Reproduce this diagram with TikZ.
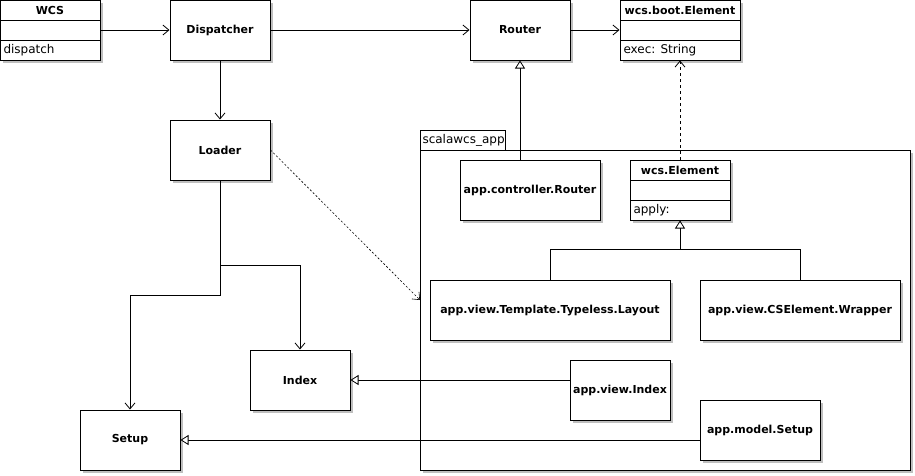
\documentclass[tikz,border=0pt]{standalone}
\usepackage{fontspec}
\setmainfont{DejaVu Sans}
\usetikzlibrary{arrows.meta,shadows,calc}

\begin{document}
\begin{tikzpicture}[x=1pt,y=-1pt,
  line width=1pt,
  shade box/.style={drop shadow={shadow xshift=3pt,shadow yshift=-3pt,fill=black!25,opacity=1}},
  cls/.style={draw=black,fill=white,inner sep=0pt,shade box,
    font=\fontsize{11pt}{13pt}\selectfont\bfseries},
  title/.style={inner sep=0pt,font=\fontsize{11pt}{13pt}\selectfont\bfseries},
  member/.style={inner sep=0pt,anchor=west,font=\fontsize{12pt}{14pt}\selectfont},
  assoc/.style={-{Straight Barb[length=6pt,width=10pt,line width=0.8pt]}},
  gen/.style={-{Triangle[open,length=8pt,width=10pt,fill=white,line width=0.8pt]}},
  real/.style={dash pattern=on 3pt off 3pt,line width=0.8pt,-{Straight Barb[length=6pt,width=10pt,line width=0.8pt]}},
  dep/.style={dash pattern=on 2pt off 2pt,line width=0.6pt,-{Straight Barb[length=6pt,width=10pt,line width=0.6pt]}},
]
\useasboundingbox (0,0) rectangle (915,475);

% package scalawcs_app
\draw[fill=white] (420,130) rectangle (505,150);
\node[draw=black,fill=white,inner sep=0pt,shade box,minimum width=490pt,minimum height=320pt] (pkg) at (665,310) {};
\node[member] (pkgname) at (422,140) {scalawcs\_app};
\coordinate (pkgin) at (420,300);

% top row
\node[cls,minimum width=100pt,minimum height=60pt] (wcs) at (50,30) {};
\draw (0,20) -- (100,20) (0,40) -- (100,40);
\node[title] (wcsname) at (50,10) {WCS};
\node[member] (wcsop) at (3,50) {dispatch};

\node[cls,minimum width=100pt,minimum height=60pt] (disp) at (220,30) {Dispatcher};
\node[cls,minimum width=100pt,minimum height=60pt] (router) at (520,30) {Router};

\node[cls,minimum width=120pt,minimum height=60pt] (boot) at (680,30) {};
\draw (620,20) -- (740,20) (620,40) -- (740,40);
\node[title] (bootname) at (680,10) {wcs.boot.Element};
\node[member] (bootop) at (623,50) {exec: String};

% left column
\node[cls,minimum width=100pt,minimum height=60pt] (loader) at (220,150) {Loader};
\node[cls,minimum width=100pt,minimum height=60pt] (index) at (300,380) {Index};
\node[cls,minimum width=100pt,minimum height=60pt] (setup) at (130,440) {Setup};

% package contents
\node[cls,minimum width=140pt,minimum height=60pt] (ctrl) at (530,190) {app.controller.Router};
\node[cls,minimum width=100pt,minimum height=60pt] (welem) at (680,190) {};
\draw (630,180) -- (730,180) (630,200) -- (730,200);
\node[title] (welemname) at (680,170) {wcs.Element};
\node[member] (welemop) at (633,210) {apply:};

\node[cls,minimum width=240pt,minimum height=60pt] (layout) at (550,310) {app.view.Template.Typeless.Layout};
\node[cls,minimum width=200pt,minimum height=60pt] (wrapper) at (800,310) {app.view.CSElement.Wrapper};
\node[cls,minimum width=100pt,minimum height=60pt] (appindex) at (620,390) {app.view.Index};
\node[cls,minimum width=120pt,minimum height=60pt] (appsetup) at (760,430) {app.model.Setup};

% associations
\draw[assoc] (wcs.east) -- (disp.west);
\draw[assoc] (disp.east) -- (router.west);
\draw[assoc] (router.east) -- (boot.west);
\draw[assoc] (disp.south) -- (loader.north);
\draw[assoc] (loader.south) -- ++(0,115) -| (setup.north);
\draw[assoc] (loader.south) -- ++(0,85) -| (index.north);

% dependency into the package
\draw[dep] (loader.east) -- (pkgin);

% generalizations and realization
\draw[gen] (router.south |- ctrl.north) -- (router.south);
\draw[real] (welem.north) -- (boot.south);
\draw (wrapper.north) -- ++(0,-30) -| (welem.south);
\draw[gen] (layout.north) -- ++(0,-30) -| (welem.south);
\draw[gen] (appindex.west |- index.east) -- (index.east);
\draw[gen] (appsetup.west |- setup.east) -- (setup.east);
\end{tikzpicture}
\end{document}
